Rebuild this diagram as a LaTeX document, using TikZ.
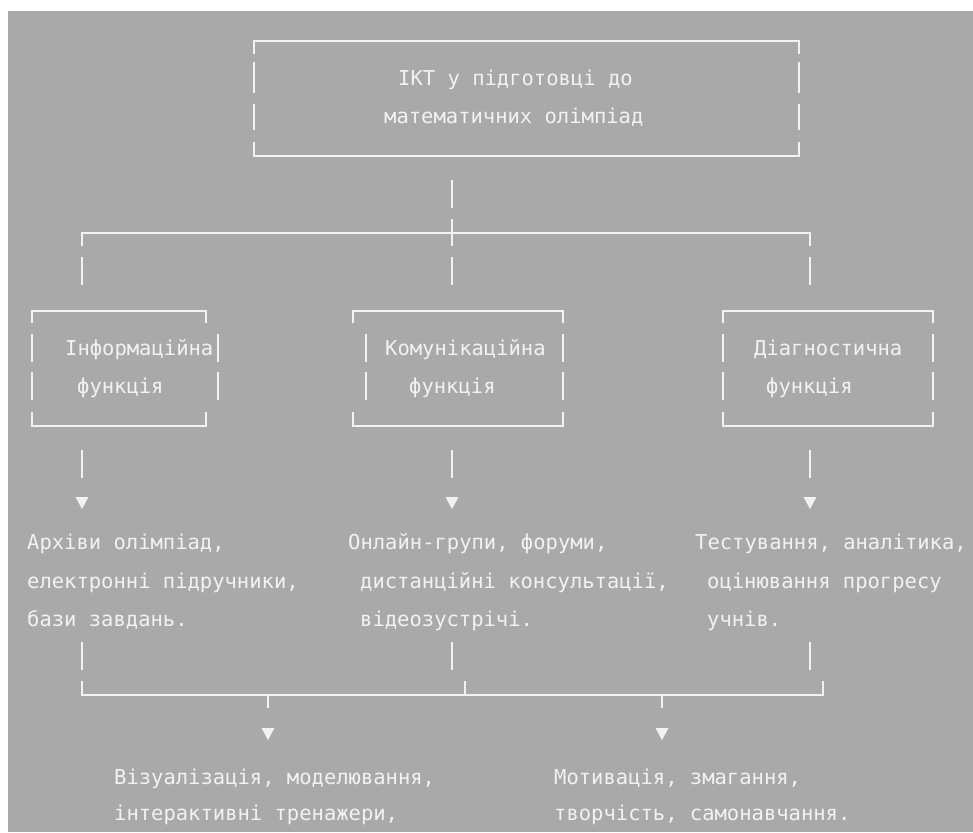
\documentclass[tikz,border=0pt]{standalone}
\usepackage{fontspec}
\setmonofont{DejaVu Sans Mono}
\definecolor{bg}{RGB}{169,169,169}
\definecolor{fg}{RGB}{242,242,242}
\tikzset{
  txt/.style={anchor=base west, inner sep=0pt, font=\ttfamily\fontsize{20.5}{24}\selectfont, text=fg},
  ln/.style={draw=fg, line width=1.6pt, line join=miter},
}
\newcommand\downtri[2]{\fill[fg] (#1-6.5,#2) -- (#1+6.5,#2) -- (#1,#2+12) -- cycle;}
\newcommand\asciibox[4]{%
  \draw[ln] (#1,323) -- (#1,311) -- (#2,311) -- (#2,323);
  \draw[ln] (#1,412) -- (#1,426) -- (#2,426) -- (#2,412);
  \foreach \ya/\yb in {334/362,372/400}{\draw[ln] (#3,\ya) -- (#3,\yb); \draw[ln] (#4,\ya) -- (#4,\yb);}
}
\begin{document}
\begin{tikzpicture}[x=1pt,y=-1pt]
\useasboundingbox (0,0) rectangle (973,832);
\fill[white] (0,0) rectangle (973,832);
\fill[bg] (8,11) rectangle (973,832);

% top box
\draw[ln] (254,54) -- (254,41) -- (799,41) -- (799,54);
\draw[ln] (254,142) -- (254,156) -- (799,156) -- (799,142);
\foreach \ya/\yb in {62/93,104/130}{\draw[ln] (254,\ya) -- (254,\yb); \draw[ln] (799,\ya) -- (799,\yb);}
\node[txt] (t1) at (398,86) {ІКТ у підготовці до};
\node[txt] (t2) at (384,124) {математичних олімпіад};

% trunk and branch line
\foreach \ya/\yb in {180/208,219/246,257/285}{\draw[ln] (452,\ya) -- (452,\yb);}
\draw[ln] (82,246) -- (82,233) -- (810,233) -- (810,246);
\draw[ln] (82,257) -- (82,285);
\draw[ln] (810,257) -- (810,285);

% function boxes
\asciibox{32}{206}{32}{218}
\asciibox{353}{563}{366}{563}
\asciibox{723}{933}{723}{933}
\node[txt] (f1a) at (65,355) {Інформаційна};
\node[txt] (f1b) at (77,393) {функція};
\node[txt] (f2a) at (385,355) {Комунікаційна};
\node[txt] (f2b) at (409,393) {функція};
\node[txt] (f3a) at (754,355) {Діагностична};
\node[txt] (f3b) at (766,393) {функція};

% arrows down to descriptions
\foreach \x in {82,452,810}{\draw[ln] (\x,450) -- (\x,478); \downtri{\x}{497}}

\node[txt] (a1) at (27,549) {Архіви олімпіад,};
\node[txt] (a2) at (27,588) {електронні підручники,};
\node[txt] (a3) at (27,626) {бази завдань.};
\node[txt] (b1) at (348,549) {Онлайн-групи, форуми,};
\node[txt] (b2) at (360,588) {дистанційні консультації,};
\node[txt] (b3) at (360,626) {відеозустрічі.};
\node[txt] (c1) at (695,549) {Тестування, аналітика,};
\node[txt] (c2) at (707,588) {оцінювання прогресу};
\node[txt] (c3) at (707,626) {учнів.};

% bottom merge
\foreach \x in {82,452,810}{\draw[ln] (\x,642) -- (\x,670);}
\draw[ln] (82,681) -- (82,695) -- (823,695) -- (823,681);
\draw[ln] (465,681) -- (465,695);
\draw[ln] (268,695) -- (268,708);
\draw[ln] (662,695) -- (662,708);
\downtri{268}{728}
\downtri{662}{728}

\node[txt] (d1) at (114,784) {Візуалізація, моделювання,};
\node[txt] (d2) at (114,820) {інтерактивні тренажери,};
\node[txt] (e1) at (554,784) {Мотивація, змагання,};
\node[txt] (e2) at (554,820) {творчість, самонавчання.};
\end{tikzpicture}
\end{document}
